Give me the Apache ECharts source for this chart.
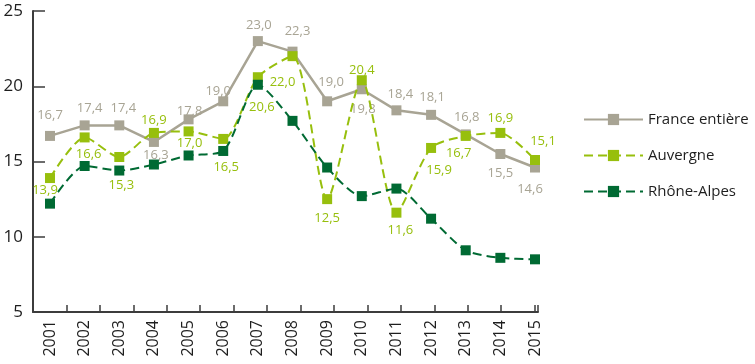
<!DOCTYPE html>
<html>
<head>
<meta charset="utf-8">
<script src="https://cdn.jsdelivr.net/npm/echarts@6/dist/echarts.min.js"></script>
<style>
  html, body { margin: 0; padding: 0; background: #ffffff; }
  #chart { width: 755px; height: 364px; }
</style>
</head>
<body>
<div id="chart"></div>
<script>
// Years on the horizontal axis
const years = ['2001', '2002', '2003', '2004', '2005', '2006', '2007', '2008',
               '2009', '2010', '2011', '2012', '2013', '2014', '2015'];

// Rates per area
const franceValues = [16.7, 17.4, 17.4, 16.3, 17.8, 19.0, 23.0, 22.3, 19.0, 19.8, 18.4, 18.1, 16.8, 15.5, 14.6];
const auvergneValues = [13.9, 16.6, 15.3, 16.9, 17.0, 16.5, 20.6, 22.0, 12.5, 20.4, 11.6, 15.9, 16.7, 16.9, 15.1];
const rhoneAlpesValues = [12.2, 14.7, 14.4, 14.8, 15.4, 15.7, 20.1, 17.7, 14.6, 12.7, 13.2, 11.2, 9.1, 8.6, 8.5];

// Vertical scale ticks
const yTicks = [5, 10, 15, 20, 25];

// Where each value label sits around its marker, in pixels [dx, dy] from the marker centre
const franceLabelShift = [[0, -21], [5, -17], [4, -17], [2, 13], [1, -8], [-5, -10], [1, -16], [5, -20],
                          [4, -19], [1, 20], [4, -16], [1, -18], [1, -17], [0, 19], [-5, 22]];
const auvergneLabelShift = [[-5, 12], [4, 17], [2, 28], [0, -13], [1, 12], [3, 28], [4, 30], [-10, 26],
                            [0, 19], [0, -10], [4, 18], [8, 22], [-7, 17], [0, -15], [8, -19]];

const FONT = '"Open Sans", "Noto Sans", sans-serif';
const GREY = '#a8a494';
const LIGHT_GREEN = '#97bf0d';
const DARK_GREEN = '#006a33';
const MARK = 10;

const fmt = v => v.toFixed(1).replace('.', ',');

function labelled(values, shifts, color) {
  return values.map((v, i) => ({
    value: v,
    label: {
      show: true,
      // position is measured from the marker's top-left corner
      position: [MARK / 2 + shifts[i][0], MARK / 2 + shifts[i][1]],
      align: 'center',
      verticalAlign: 'middle',
      formatter: fmt(v),
      color: color,
      fontSize: 13,
      fontFamily: FONT
    }
  }));
}

const TOP = 11, BOTTOM = 52;

const chart = echarts.init(document.getElementById('chart'), null, { renderer: 'canvas' });

chart.setOption({
  animation: false,
  backgroundColor: '#ffffff',
  grid: [
    // plotting area for the series
    { left: 50, right: 220, top: TOP, bottom: BOTTOM, containLabel: false },
    // frame: axis lines and ticks
    { left: 33, right: 217, top: TOP, bottom: BOTTOM, containLabel: false }
  ],
  xAxis: [
    {
      type: 'category',
      gridIndex: 0,
      data: years,
      boundaryGap: false,
      axisLine: { show: false },
      axisTick: { show: false },
      axisLabel: {
        rotate: 90,
        margin: 8,
        fontSize: 16,
        fontFamily: FONT,
        color: '#1e1e1e'
      },
      splitLine: { show: false }
    },
    {
      type: 'value',
      gridIndex: 1,
      min: 0,
      max: 15.1,
      interval: 1,
      axisLine: { show: true, lineStyle: { color: '#3c3c3c', width: 2 } },
      axisTick: { show: true, inside: true, length: 7, lineStyle: { color: '#3c3c3c', width: 1.5 } },
      axisLabel: { show: false },
      splitLine: { show: false }
    }
  ],
  yAxis: [
    {
      type: 'value',
      gridIndex: 0,
      min: yTicks[0],
      max: yTicks[yTicks.length - 1],
      interval: 5,
      show: false
    },
    {
      type: 'value',
      gridIndex: 1,
      min: yTicks[0],
      max: yTicks[yTicks.length - 1],
      interval: 5,
      axisLine: { show: true, lineStyle: { color: '#3c3c3c', width: 2 } },
      axisTick: { show: true, inside: true, length: 12, lineStyle: { color: '#3c3c3c', width: 1.5 } },
      axisLabel: { margin: 10, fontSize: 17, fontFamily: FONT, color: '#1e1e1e' },
      splitLine: { show: false }
    }
  ],
  legend: {
    orient: 'vertical',
    left: 583,
    top: 112,
    itemWidth: 59,
    itemHeight: 14,
    itemGap: 21,
    padding: 0,
    textStyle: { fontSize: 15, fontFamily: FONT, color: '#1e1e1e' },
    data: ['France entière', 'Auvergne', 'Rhône-Alpes']
  },
  series: [
    {
      name: 'France entière',
      type: 'line',
      xAxisIndex: 0,
      yAxisIndex: 0,
      data: labelled(franceValues, franceLabelShift, GREY),
      symbol: 'rect',
      symbolSize: MARK,
      color: GREY,
      itemStyle: { color: GREY },
      lineStyle: { color: GREY, width: 2.5 },
      labelLayout: { hideOverlap: false },
      z: 2
    },
    {
      name: 'Auvergne',
      type: 'line',
      xAxisIndex: 0,
      yAxisIndex: 0,
      data: labelled(auvergneValues, auvergneLabelShift, LIGHT_GREEN),
      symbol: 'rect',
      symbolSize: MARK,
      smooth: 0.25,
      color: LIGHT_GREEN,
      itemStyle: { color: LIGHT_GREEN },
      lineStyle: { color: LIGHT_GREEN, width: 2, type: [9, 5] },
      labelLayout: { hideOverlap: false },
      z: 3
    },
    {
      name: 'Rhône-Alpes',
      type: 'line',
      xAxisIndex: 0,
      yAxisIndex: 0,
      data: rhoneAlpesValues,
      symbol: 'rect',
      symbolSize: MARK,
      smooth: 0.25,
      color: DARK_GREEN,
      itemStyle: { color: DARK_GREEN },
      lineStyle: { color: DARK_GREEN, width: 2, type: [9, 5] },
      z: 4
    }
  ]
});
</script>
</body>
</html>
